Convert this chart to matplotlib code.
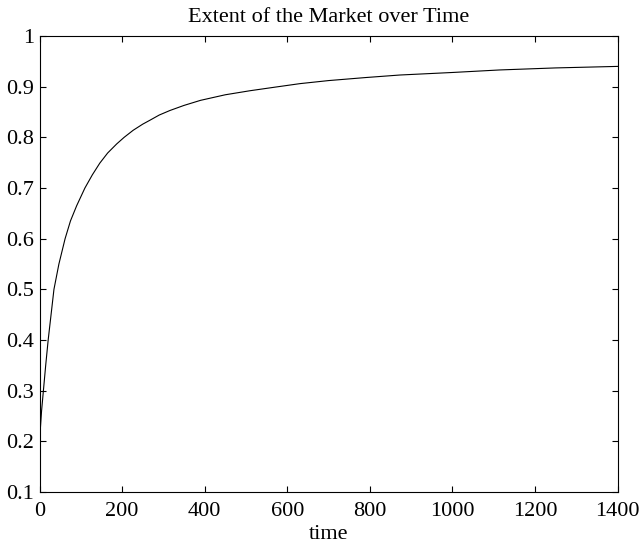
import matplotlib
matplotlib.use('Agg')
import matplotlib.pyplot as plt

# extent of the market
time = [0, 5, 10, 15, 21, 28, 35, 47, 62, 75, 90, 110, 128, 146, 165, 187,
        205, 227, 250, 268, 290, 316, 350, 390, 450, 510, 570, 631, 700, 790,
        873, 1000, 1115, 1250, 1400]
extent = [0.20, 0.26, 0.305, 0.35, 0.40, 0.45, 0.50, 0.55, 0.60, 0.635,
          0.665, 0.70, 0.726, 0.749, 0.769, 0.787, 0.80, 0.814, 0.826, 0.834,
          0.844, 0.853, 0.863, 0.873, 0.884, 0.892, 0.899, 0.906, 0.912,
          0.918, 0.923, 0.928, 0.933, 0.937, 0.940]

xticks = [0, 200, 400, 600, 800, 1000, 1200, 1400]
yticks = [0.1, 0.2, 0.3, 0.4, 0.5, 0.6, 0.7, 0.8, 0.9, 1]

plt.rcParams['font.family'] = ['Liberation Serif', 'DejaVu Serif']

fig = plt.figure(figsize=(6.4, 5.46), dpi=100)
ax = fig.add_axes([39.5 / 640, 54 / 546, 578 / 640, 456 / 546])
ax.plot(time, extent, color='black', linewidth=0.8)

ax.set_xlim(0, 1400)
ax.set_ylim(0.1, 1)
ax.set_xticks(xticks)
ax.set_xticklabels([str(t) for t in xticks])
ax.set_yticks(yticks)
ax.set_yticklabels(['%g' % v for v in yticks])
ax.tick_params(direction='in', top=True, right=True, length=4, width=0.8,
               labelsize=16)
ax.tick_params(axis='x', pad=7)
ax.tick_params(axis='y', pad=4)
for s in ax.spines.values():
    s.set_linewidth(0.8)

ax.set_title('Extent of the Market over Time', fontsize=16, pad=10)
ax.set_xlabel('time', fontsize=16, labelpad=3)

fig.savefig('out.png', dpi=100)
